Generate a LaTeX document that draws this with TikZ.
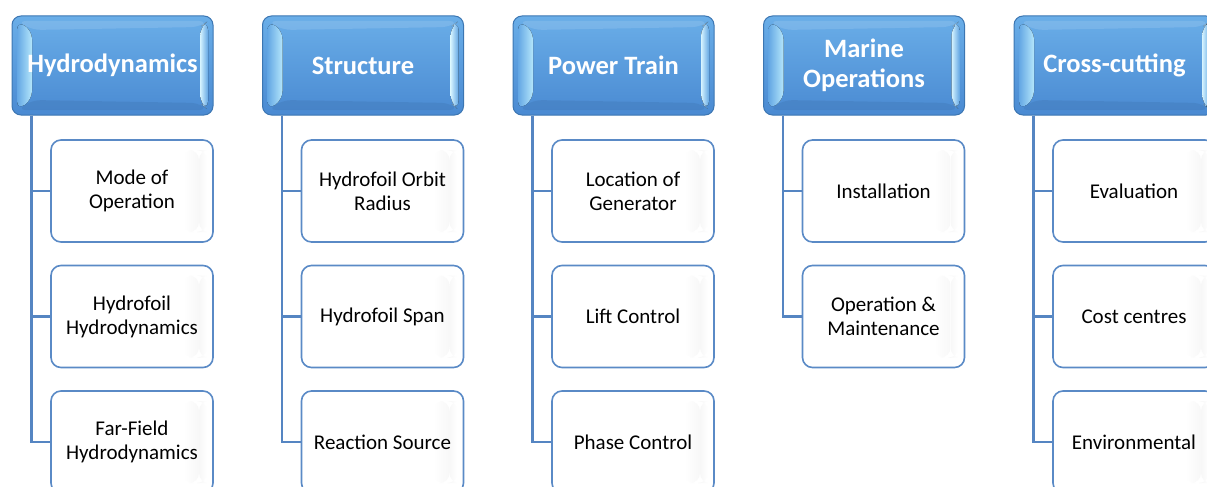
\documentclass[tikz,border=0pt]{standalone}
\usepackage{fontspec}
\setmainfont{Carlito}
\usetikzlibrary{calc}
\definecolor{hdtop}{HTML}{6AAEE8}
\definecolor{hdbot}{HTML}{4A8AD2}
\definecolor{hdborder}{HTML}{3C76B2}
\definecolor{bevlight}{HTML}{B4E6FB}
\definecolor{bevwhite}{HTML}{D6F4FF}
\definecolor{chborder}{HTML}{5A8AC6}
\definecolor{connblue}{HTML}{5585C2}
\begin{document}
\begin{tikzpicture}[x=1pt,y=-1pt,
  header/.style={draw=hdborder, line width=1pt, rounded corners=9pt,
    minimum width=201pt, minimum height=99pt, inner sep=0pt,
    top color=hdtop, bottom color=hdbot, text=white, align=center,
    font=\fontsize{26.5}{30}\selectfont\bfseries,
    path picture={
      \coordinate (nw) at (path picture bounding box.north west);
      \coordinate (se) at (path picture bounding box.south east);
      \fill[left color=hdtop!80!hdbot, right color=bevlight]
        ($(nw)+(5,5)$) -- ($(nw)+(20,14)$) -- ($(nw|-se)+(20,-15)$) -- ($(nw|-se)+(5,-5)$) -- cycle;
      \fill[left color=bevwhite, right color=hdtop!80!hdbot]
        ($(se|-nw)+(-13,11)$) -- ($(se|-nw)+(-5,5)$) -- ($(se)+(-5,-5)$) -- ($(se)+(-13,-12)$) -- cycle;
      \fill[hdbot!85!black, opacity=0.35]
        ($(nw|-se)+(5,-5)$) -- ($(nw|-se)+(20,-15)$) -- ($(se)+(-13,-12)$) -- ($(se)+(-5,-5)$) -- cycle;
      \fill[white, opacity=0.12]
        ($(nw)+(5,5)$) -- ($(nw)+(20,14)$) -- ($(se|-nw)+(-13,11)$) -- ($(se|-nw)+(-5,5)$) -- cycle;
    }},
  childbox/.style={draw=chborder, line width=1.6pt, rounded corners=10pt,
    minimum width=162pt, minimum height=102pt, inner sep=0pt,
    fill=white, align=center, text=black,
    font=\fontsize{21}{24}\selectfont,
    path picture={
      \coordinate (se) at (path picture bounding box.south east);
      \coordinate (nw) at (path picture bounding box.north west);
      \fill[left color=white, right color=black!3]
        ($(se|-nw)+(-30,10)$) rectangle ($(se)+(-14,-10)$);
      \fill[left color=black!3, right color=white]
        ($(se|-nw)+(-14,10)$) rectangle ($(se)+(-6,-10)$);
    }},
  conn/.style={draw=connblue, line width=2.6pt}
]
\useasboundingbox (0,0) rectangle (1207,487);
\clip (0,0) rectangle (1207,487);

% Column 1
\node[header] (h1) at (112.5,65.5) {Hydrodynamics};
\node[childbox] (c11) at (132,191) {Mode of\\Operation};
\node[childbox] (c12) at (132,316.5) {Hydrofoil\\Hydrodynamics};
\node[childbox] (c13) at (132,442) {Far-Field\\Hydrodynamics};

% Column 2
\node[header] (h2) at (363,65.5) {Structure};
\node[childbox] (c21) at (382.5,191) {Hydrofoil Orbit\\Radius};
\node[childbox] (c22) at (382.5,316.5) {Hydrofoil Span};
\node[childbox] (c23) at (382.5,442) {Reaction Source};

% Column 3
\node[header] (h3) at (613.5,65.5) {Power Train};
\node[childbox] (c31) at (633,191) {Location of\\Generator};
\node[childbox] (c32) at (633,316.5) {Lift Control};
\node[childbox] (c33) at (633,442) {Phase Control};

% Column 4
\node[header] (h4) at (864,65.5) {Marine\\Operations};
\node[childbox] (c41) at (883.5,191) {Installation};
\node[childbox] (c42) at (883.5,316.5) {Operation \&\\Maintenance};

% Column 5
\node[header] (h5) at (1114.5,65.5) {Cross-cutting};
\node[childbox] (c51) at (1134,191) {Evaluation};
\node[childbox] (c52) at (1134,316.5) {Cost centres};
\node[childbox] (c53) at (1134,442) {Environmental};

% Connectors
\foreach \h/\cs in {h1/{c11,c12,c13}, h2/{c21,c22,c23}, h3/{c31,c32,c33}, h4/{c41,c42}, h5/{c51,c52,c53}}{
  \foreach \c in \cs {
    \draw[conn] ($(\h.south west)+(20,0)$) |- (\c.west);
  }
}
\end{tikzpicture}
\end{document}
